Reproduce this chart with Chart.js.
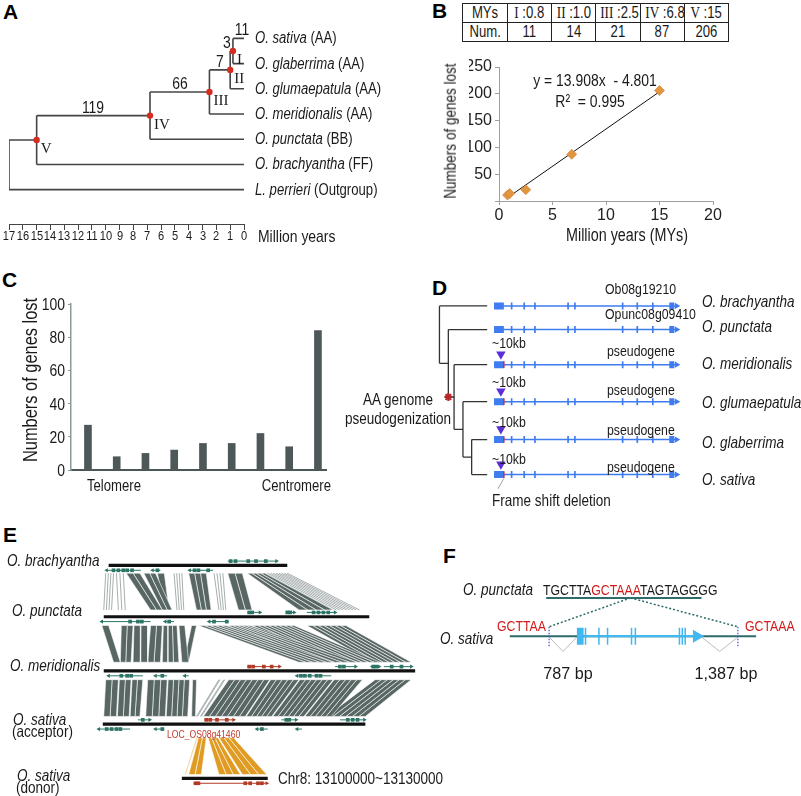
<!DOCTYPE html>
<html>
<head>
<meta charset="utf-8">
<title>Gene loss in Oryza</title>
<script src="https://cdn.jsdelivr.net/npm/chart.js@4.4.1/dist/chart.umd.min.js"></script>
<style>
  body { margin: 0; background: #fff; }
  #fig { position: relative; width: 801px; height: 796px; overflow: hidden; background: #fff;
         font-family: "Liberation Sans", Arial, sans-serif; color: #1a1a1a; }
  #fig canvas { position: absolute; }
  .t { position: absolute; white-space: nowrap; line-height: 1; font-size: 16px; }
  .lt { font-weight: bold; font-size: 21px; color: #000; }
  .rn { font-family: "Liberation Serif", "Times New Roman", serif; }
  .red { color: #d01c1c; }
  table.my { position: absolute; border-collapse: collapse; font-size: 16px; table-layout: fixed; }
  table.my td { border: 1px solid #222; padding: 0; height: 18px; text-align: center; line-height: 18px; white-space: nowrap; overflow: hidden; }
  table.my td span.n { display: inline-block; transform: scaleX(0.82); }
</style>
</head>
<body>
<div id="fig"></div>
<script>
// ---------- data ----------
// A / B : divergence nodes of the Oryza tree
const nodeLabels = ['I', 'II', 'III', 'IV', 'V'];
const nodeMYs = [0.8, 1.0, 2.5, 6.8, 15];
const rootMYs = 17;
const genesLost = [11, 14, 21, 87, 206];      // cumulative, table in B
const branchLost = [11, 3, 7, 66, 119];       // lost on each branch, tree in A
const taxa = ['O. sativa', 'O. glaberrima', 'O. glumaepatula', 'O. meridionalis', 'O. punctata', 'O. brachyantha', 'L. perrieri'];
const genomes = ['(AA)', '(AA)', '(AA)', '(AA)', '(BB)', '(FF)', '(Outgroup)'];

// B : linear fit shown on the plot
const fitSlope = 13.908;
const fitIntercept = -4.801;
const fitR2 = 0.995;

// C : genes lost along the chromosome, telomere -> centromere
const cBins = [1, 2, 3, 4, 5, 6, 7, 8, 9];
const cLost = [27, 8, 10, 12, 16, 16, 22, 14, 84];
const cTicks = [0, 20, 40, 60, 80, 100];

// D : gene model (gene units 0-100)
const dTaxa = ['O. brachyantha', 'O. punctata', 'O. meridionalis', 'O. glumaepatula', 'O. glaberrima', 'O. sativa'];
const dGeneNames = ['Ob08g19210', 'Opunc08g09410', 'pseudogene', 'pseudogene', 'pseudogene', 'pseudogene'];
const dPseudo = [false, false, true, true, true, true];
const exonFirst = [0, 5.3];
const exonThin = [9.5, 16.3, 22.1, 40, 43.7, 69.5, 77.4, 85.8];
const exonLast = [94.7, 97.4];
const geneLen = 100;
const insertPos = 3.7;
const dRowY = [301, 326, 363, 402, 442, 479];
const dTreeX = [-29.5, -24.7, -21.6, -16.8, -12.1];
const dTipX = -3.7;

// E : synteny tracks
const eTaxa = ['O. brachyantha', 'O. punctata', 'O. meridionalis', 'O. sativa', 'O. sativa'];
const eRole = ['', '', '', '(acceptor)', '(donor)'];
const eBarY = [562, 615, 671, 726, 782];
const eBarFrom = [105, 100, 100, 99, 180];
const eBarTo = [288, 372, 419, 368, 268];
const eGapTop = [8, 9, 9, 14];
const eGapBot = [7, 9, 8, 4];
// [upper track, upper start, upper end, lower start, lower end, shade 0 dark / 1 light / 2 orange]
const eBlocks = [
  [0, 102, 110, 100, 108, 1], [0, 113, 120, 115, 122, 1], [0, 123, 137, 148, 160, 0],
  [0, 141, 153, 160, 170, 0], [0, 155, 162, 162, 167, 0], [0, 172, 180, 175, 182, 1],
  [0, 187, 205, 195, 210, 0], [0, 213, 222, 218, 225, 1], [0, 227, 242, 238, 252, 0],
  [0, 247, 265, 300, 335, 0], [0, 265, 288, 335, 362, 1],
  [1, 98, 105, 110, 117, 0], [1, 118, 130, 117, 128, 0], [1, 131, 145, 130, 145, 0],
  [1, 148, 160, 145, 158, 0], [1, 161, 175, 160, 177, 0], [1, 177, 183, 180, 187, 0],
  [1, 190, 195, 182, 187, 0], [1, 197, 225, 300, 335, 0], [1, 227, 250, 320, 360, 0],
  [1, 252, 295, 335, 383, 0], [1, 308, 348, 375, 415, 0],
  [2, 102, 115, 100, 113, 0], [2, 116, 128, 114, 126, 0], [2, 129, 140, 127, 137, 0],
  [2, 145, 165, 143, 163, 0], [2, 166, 188, 164, 186, 0], [2, 191, 195, 190, 194, 0],
  [2, 218, 219, 195, 196, 1], [2, 223, 224, 199, 200, 1], [2, 228, 270, 202, 245, 0],
  [2, 271, 300, 246, 272, 0], [2, 301, 335, 273, 305, 0], [2, 336, 365, 306, 333, 0],
  [2, 378, 415, 328, 368, 0],
  [3, 195, 196, 183, 184, 2], [3, 197, 205, 187, 200, 2], [3, 207, 217, 218, 240, 2],
  [3, 218, 233, 242, 267, 2]
];
// [track, side (1 above / -1 below), start, end, strand, focal gene, exon boxes]
const eGenes = [
  [0, 1, 227, 277, 1, 0, [230, 235, 248, 256, 266]],
  [0, -1, 103, 138, -1, 0, [110, 115, 120, 124, 129]],
  [0, -1, 150, 158, -1, 0, [155]],
  [0, -1, 188, 212, -1, 0, [193, 197, 207]],
  [1, 1, 247, 260, 1, 0, [249, 252]],
  [1, 1, 287, 295, 1, 0, [288, 291]],
  [1, 1, 308, 337, 1, 0, [315, 320, 325, 330]],
  [1, -1, 98, 148, -1, 0, [127, 135, 139]],
  [1, -1, 163, 172, -1, 0, [167]],
  [1, -1, 208, 228, -1, 0, [213, 226]],
  [2, 1, 247, 280, 1, 1, [249, 253, 264, 272]],
  [2, 1, 337, 358, 1, 0, [342, 346]],
  [2, 1, 373, 382, 1, 0, [376, 379]],
  [2, 1, 387, 415, 1, 0, [395, 405]],
  [2, -1, 105, 140, -1, 0, [118, 124, 128]],
  [2, -1, 153, 165, -1, 0, [160]],
  [2, -1, 183, 187, -1, 0, []],
  [2, -1, 298, 333, -1, 0, [302, 306, 311, 318, 322]],
  [3, 1, 135, 147, 1, 0, [140]],
  [3, 1, 203, 233, 1, 1, [205, 209, 216, 226]],
  [3, 1, 282, 297, 1, 0, [287, 290]],
  [3, 1, 342, 367, 1, 0, [350, 355, 360]],
  [3, -1, 95, 127, -1, 0, [103, 108, 113, 117]],
  [3, -1, 153, 162, -1, 0, [160]],
  [3, -1, 257, 268, -1, 0, [262]],
  [3, -1, 298, 303, -1, 0, []],
  [4, -1, 192, 267, 1, 1, [194, 197, 245, 250, 258, 262]]
];

// F : insertion site
const fSeqParts = ['TGCTTA', 'GCTAAA', 'TAGTAGGGG'];
const fTsd = ['GCTTAA', 'GCTAAA'];
const fGapLabels = ['787 bp', '1,387 bp'];
const fSeqSpan = [543, 705];
const fSeqY = 594;
const fInsert = [546, 743];
const fLineSpan = [505, 762];
const fLineY = 639;
const fExonBig = [575, 582];
const fExonThin = [584, 598, 607, 632, 636, 682, 685, 688];
const fGeneEnd = 705;

// ---------- helpers ----------
Chart.defaults.font.family = '"Liberation Sans", Arial, sans-serif';
Chart.defaults.color = '#1a1a1a';
Chart.defaults.animation = false;
Chart.defaults.events = [];
Chart.defaults.plugins.legend.display = false;
Chart.defaults.plugins.tooltip.enabled = false;

const fig = document.getElementById('fig');

function addCanvas(left, top, w, h) {
  const c = document.createElement('canvas');
  c.width = w; c.height = h;
  c.style.left = left + 'px'; c.style.top = top + 'px';
  c.style.width = w + 'px'; c.style.height = h + 'px';
  fig.appendChild(c);
  return c;
}

// text in the figure is a condensed sans; squeeze the regular face horizontally
function label(html, x, y, opt) {
  opt = opt || {};
  const d = document.createElement('div');
  d.className = 't' + (opt.cls ? ' ' + opt.cls : '');
  d.innerHTML = html;
  d.style.left = x + 'px';
  d.style.top = y + 'px';
  if (opt.size) d.style.fontSize = opt.size + 'px';
  if (opt.color) d.style.color = opt.color;
  const a = opt.anchor || 'l';
  const ax = { l: '0', c: '-50%', r: '-100%' }[a];
  const sx = opt.sx === undefined ? 0.82 : opt.sx;
  d.style.transformOrigin = opt.rot ? 'center' : ({ l: 'left', c: 'center', r: 'right' }[a] + ' center');
  d.style.transform = 'translate(' + ax + ',-50%)' + (opt.rot ? ' rotate(' + opt.rot + 'deg)' : '') + ' scaleX(' + sx + ')';
  fig.appendChild(d);
  return d;
}

function seg(list, x1, y1, x2, y2) {
  list.push({ x: x1, y: y1 }, { x: x2, y: y2 }, { x: x2, y: null });
}

function lineSet(data, color, width, extra) {
  return Object.assign({ data: data, borderColor: color, borderWidth: width, pointRadius: 0,
    fill: false, tension: 0, spanGaps: false, borderCapStyle: 'butt' }, extra || {});
}

function pointSet(data, color, style, radius, rotation, extra) {
  return Object.assign({ data: data, showLine: false, pointStyle: style, pointRadius: radius,
    pointRotation: rotation || 0, pointBackgroundColor: color, pointBorderColor: color,
    pointBorderWidth: 0 }, extra || {});
}

function polySet(pts, color, edge) {
  return { data: pts.concat([pts[0]]), borderColor: edge || color, borderWidth: edge ? 0.7 : 0.1,
    backgroundColor: color, fill: 'shape', pointRadius: 0, tension: 0 };
}

function diagram(left, top, w, h, datasets, xr) {
  return new Chart(addCanvas(left, top, w, h), {
    type: 'line',
    data: { datasets: datasets },
    options: {
      responsive: false, devicePixelRatio: 1,
      layout: { padding: 0 },
      scales: {
        x: { type: 'linear', display: false, min: xr ? xr[0] : left, max: xr ? xr[1] : left + w },
        y: { type: 'linear', display: false, min: top, max: top + h, reverse: true }
      }
    }
  });
}

// panel letters
[['A', 3, 11], ['B', 432, 10], ['C', 2, 279], ['D', 432, 287], ['E', 3, 534], ['F', 443, 555]]
  .forEach(p => label(p[0], p[1], p[2], { cls: 'lt', sx: 1 }));

// ---------- A : dated tree ----------
const ages = nodeMYs.concat([rootMYs]);
const rows = [0.5];
for (let k = 1; k < 5; k++) rows[k] = (rows[k - 1] + k + 1) / 2;
rows[5] = (rows[4] + 6) / 2;

const treeA = [];
taxa.forEach((t, i) => seg(treeA, i === 0 ? ages[0] : ages[i - 1], i, 0, i));
for (let k = 0; k < ages.length; k++) seg(treeA, ages[k], k === 0 ? 0 : rows[k - 1], ages[k], k + 1);
for (let k = 0; k < 5; k++) seg(treeA, ages[k + 1], rows[k], ages[k], rows[k]);
const dotsA = nodeMYs.map((a, k) => ({ x: a, y: rows[k] }));

const aLeft = -20, aTop = 0;
const chA = new Chart(addCanvas(aLeft, aTop, 290, 250), {
  type: 'line',
  data: { datasets: [pointSet(dotsA, '#d62b1f', 'circle', 3.2), lineSet(treeA, '#454545', 1.6)] },
  options: {
    responsive: false, devicePixelRatio: 1,
    layout: { padding: { left: 29, right: 26, top: 0, bottom: 6 } },
    scales: {
      x: { type: 'linear', min: 0, max: rootMYs, reverse: true,
        ticks: { stepSize: 1, autoSkip: false, display: false },
        grid: { drawOnChartArea: false, tickLength: 6, color: '#444' },
        border: { color: '#444', width: 1 },
        afterFit: s => { s.height = 20; } },
      y: { type: 'linear', display: false, min: -1.364, max: 7.363, reverse: true }
    }
  }
});
const axA = v => chA.scales.x.getPixelForValue(v) + aLeft;
const ayA = v => chA.scales.y.getPixelForValue(v) + aTop;
chA.scales.x.ticks.forEach(t => label(String(t.value), axA(t.value), 236, { anchor: 'c', size: 13.5 }));
taxa.forEach((t, i) => label('<i>' + t + '</i> ' + genomes[i], axA(0) + 11, ayA(i)));
branchLost.forEach((n, j) => {
  const x1 = j === 0 ? ages[0] : ages[j];
  const x2 = j === 0 ? 0 : ages[j - 1];
  const r = j === 0 ? 0 : rows[j - 1];
  const dx = j === 0 ? 4 : j === 1 ? -5 : 0;
  label(String(n), (axA(x1) + axA(x2)) / 2 + dx, ayA(r) - 9, { anchor: 'c', size: 17 });
});
nodeLabels.forEach((n, k) => label(n, axA(nodeMYs[k]) + 4, ayA(rows[k]) + 8, { cls: 'rn', size: 15, sx: 1 }));
label('Million years', 258, 236, { size: 17 });

// ---------- B : table + regression ----------
const tbl = document.createElement('table');
tbl.className = 'my';
tbl.style.left = '462px'; tbl.style.top = '3px'; tbl.style.width = '267px';
const fmtMY = v => (v < 10 ? v.toFixed(1) : String(v));
let r1 = '<tr><td style="width:44px"><span class="n">MYs</span></td>';
let r2 = '<tr><td><span class="n">Num.</span></td>';
nodeLabels.forEach((n, k) => {
  r1 += '<td><span class="n"><span class="rn">' + n + '</span> :' + fmtMY(nodeMYs[k]) + '</span></td>';
  r2 += '<td><span class="n">' + genesLost[k] + '</span></td>';
});
tbl.innerHTML = r1 + '</tr>' + r2 + '</tr>';
fig.appendChild(tbl);

const ptsB = nodeMYs.map((a, k) => ({ x: a, y: genesLost[k] }));
const fitB = [nodeMYs[0], nodeMYs[4]].map(x => ({ x: x, y: fitSlope * x + fitIntercept }));
new Chart(addCanvas(400, 50, 330, 200), {
  type: 'scatter',
  data: { datasets: [
    { data: ptsB, pointStyle: 'rectRot', pointRadius: 5, pointBackgroundColor: '#e4953f', pointBorderColor: '#c97b2c', pointBorderWidth: 0.6 },
    { data: fitB, showLine: true, borderColor: '#111', borderWidth: 1, pointRadius: 0 }
  ] },
  options: {
    responsive: false, devicePixelRatio: 1,
    layout: { padding: { left: 69, right: 17, top: 17, bottom: 25 } },
    scales: {
      x: { type: 'linear', min: 0, max: 20,
        ticks: { stepSize: 5, font: { size: 16 }, padding: 1, color: '#222' },
        grid: { drawOnChartArea: false, tickLength: 4, color: '#a0a0a0' },
        border: { color: '#a0a0a0', width: 1 },
        afterFit: s => { s.height = 24; } },
      y: { type: 'linear', min: 0, max: 250,
        ticks: { stepSize: 50, font: { size: 16 }, padding: 3, color: '#222', callback: v => (v === 0 ? '' : v) },
        grid: { drawOnChartArea: false, tickLength: 4, color: '#a0a0a0' },
        border: { color: '#a0a0a0', width: 1 },
        afterFit: s => { s.width = 30; } }
    }
  }
});
label('y = ' + fitSlope + 'x &nbsp;- ' + (-fitIntercept), 595, 80, { anchor: 'c', size: 17 });
label('R² &nbsp;= ' + fitR2, 590, 101, { anchor: 'c', size: 17 });
label('Numbers of genes lost', 450, 131, { anchor: 'c', rot: -90, size: 16.5 });
label('Million years (MYs)', 627, 236, { anchor: 'c', size: 17.5 });

// ---------- C : bars ----------
const chC = new Chart(addCanvas(0, 290, 345, 200), {
  type: 'bar',
  data: { datasets: [{ data: cBins.map((b, i) => ({ x: b, y: cLost[i] })), backgroundColor: '#4e5858', barThickness: 7 }] },
  options: {
    responsive: false, devicePixelRatio: 1,
    layout: { padding: { left: 43, right: 19, top: 14, bottom: 18 } },
    scales: {
      x: { type: 'linear', min: 0.41, max: 9.28, offset: false,
        ticks: { display: false }, grid: { display: false, drawTicks: false },
        border: { color: '#4b5656', width: 2 }, afterFit: s => { s.height = 2; } },
      y: { min: 0, max: 100,
        ticks: { stepSize: 20, display: false },
        grid: { drawOnChartArea: false, tickLength: 3, color: '#8a9a9a' },
        border: { color: '#8a9a9a', width: 1.5 },
        afterFit: s => { s.width = 28; } }
    }
  }
});
cTicks.forEach(v => label(String(v), 65, chC.scales.y.getPixelForValue(v) + 290, { anchor: 'r', size: 17 }));
label('Numbers of genes lost', 30, 380, { anchor: 'c', rot: -90, size: 20 });
label('Telomere', 87, 486, { size: 16 });
label('Centromere', 331, 486, { anchor: 'r', size: 16 });

// ---------- D : gene models ----------
const dNodeY = [];
dNodeY[4] = (dRowY[4] + dRowY[5]) / 2;
for (let k = 3; k >= 1; k--) dNodeY[k] = (dRowY[k] + dNodeY[k + 1]) / 2;
const treeD = [];
for (let k = 0; k < 5; k++) {
  seg(treeD, dTreeX[k], dRowY[k], dTreeX[k], k < 4 ? dNodeY[k + 1] : dRowY[5]);
  seg(treeD, dTreeX[k], dRowY[k], dTipX, dRowY[k]);
  if (k > 0) seg(treeD, dTreeX[k - 1], dNodeY[k], dTreeX[k], dNodeY[k]);
}
seg(treeD, dTreeX[4], dRowY[5], dTipX, dRowY[5]);

const intr = [], bigEx = [], thinEx = [], arrows = [], fshift = [], triD = [];
dRowY.forEach((y, i) => {
  seg(intr, 0, y, geneLen - 2, y);
  seg(bigEx, exonFirst[0], y, exonFirst[1], y);
  seg(bigEx, exonLast[0], y, exonLast[1], y);
  exonThin.forEach(x => seg(thinEx, x - 0.45, y, x + 0.45, y));
  arrows.push({ x: geneLen - 1.3, y: y });
  if (dPseudo[i]) {
    seg(fshift, exonFirst[1], y - 3.5, exonFirst[1], y + 3.5);
    triD.push({ x: insertPos, y: y - 11 });
  }
});
const leader = [];
seg(leader, exonFirst[1], dRowY[5] + 4, 2.1, dRowY[5] + 15);
const BLUE = '#3e7cf0';
const chD = diagram(340, 280, 461, 230, [
  pointSet(triD, '#5a2fd8', 'triangle', 5.5, 180),
  pointSet([{ x: dTreeX[1], y: dNodeY[2] }], '#b0282a', 'star', 4, 0, { pointBorderWidth: 2 }),
  lineSet(fshift, '#c0304a', 1.5),
  pointSet(arrows, BLUE, 'triangle', 3.6, 90),
  lineSet(thinEx, BLUE, 7),
  lineSet(bigEx, BLUE, 7),
  lineSet(intr, BLUE, 1.5),
  lineSet(leader, '#888', 0.8),
  lineSet(treeD, '#333', 1.3)
], [(340 - 492) / 1.9, (801 - 492) / 1.9]);
const axD = v => chD.scales.x.getPixelForValue(v) + 340;
dRowY.forEach((y, i) => {
  label('<i>' + dTaxa[i] + '</i>', 702, y, { size: 16.5 });
  label(dGeneNames[i], dPseudo[i] ? axD(61) : axD(60), y - 13, { size: 15 });
  if (dPseudo[i]) label('~10kb', axD(insertPos) - 9, y - 21, { size: 15 });
});
label('AA genome', 398, 399, { anchor: 'c', size: 16.5 });
label('pseudogenization', 398, 418, { anchor: 'c', size: 16.5 });
label('Frame shift deletion', 492, 500, { size: 16.5 });

// ---------- E : synteny ----------
const shades = ['#586664', '#8f9b99', '#e09c22'];
const eSets = [];
const faint = [];
eBlocks.forEach(b => {
  const t = b[0];
  const yt = eBarY[t] + eGapTop[t], yb = eBarY[t + 1] - eGapBot[t];
  const wide = ((b[2] - b[1]) + (b[4] - b[3])) / 2;
  if (b[5] === 1) {
    // sparse hits: a few single lines
    const n = Math.max(1, Math.round(wide / 3));
    for (let i = 0; i <= n; i++) {
      const f = n ? i / n : 0;
      seg(faint, b[1] + (b[2] - b[1]) * f, yt, b[3] + (b[4] - b[3]) * f, yb);
    }
    return;
  }
  const n = Math.max(1, Math.round(wide / 6));
  for (let i = 0; i < n; i++) {
    const f0 = i / n, f1 = (i + 1) / n;
    const ts = b[1] + (b[2] - b[1]) * f0, te = b[1] + (b[2] - b[1]) * f1;
    const bs = b[3] + (b[4] - b[3]) * f0, be = b[3] + (b[4] - b[3]) * f1;
    eSets.push(polySet([{ x: ts, y: yt }, { x: te, y: yt }, { x: be, y: yb }, { x: bs, y: yb }],
      shades[b[5]], 'rgba(255,255,255,0.85)'));
  }
});
eSets.push(lineSet(faint, shades[1], 0.8));
const bars = [];
eBarY.forEach((y, i) => seg(bars, eBarFrom[i], y, eBarTo[i], y));
const gl = [[], []], gb = [[], []], ga = [[], []], gr = [[], []];
eGenes.forEach(g => {
  const y = eBarY[g[0]] + (g[1] > 0 ? -4.5 : 5);
  const c = g[5];
  seg(gl[c], g[2], y, g[3], y);
  g[6].forEach(x => gb[c].push({ x: x, y: y }));
  ga[c].push({ x: g[4] > 0 ? g[3] : g[2], y: y });
  gr[c].push(g[4] > 0 ? 90 : -90);
});
const eColors = ['#2b7566', '#b23a26'];
[0, 1].forEach(c => {
  eSets.push(pointSet(ga[c], eColors[c], 'triangle', 2.4, 0, { pointRotation: gr[c] }));
  eSets.push(pointSet(gb[c], eColors[c], 'rect', 2.6));
  eSets.push(lineSet(gl[c], eColors[c], 1));
});
eSets.push(lineSet(bars, '#111', 3.2));
diagram(90, 545, 335, 250, eSets);
const eLabX = [7, 12, 10, 13, 17];
const eLabY = [560, 610, 665, 719, 775];
eTaxa.forEach((t, i) => {
  label('<i>' + t + '</i>', eLabX[i], eLabY[i], { size: 16.5 });
  if (eRole[i]) label(eRole[i], eLabX[i] - 1, eLabY[i] + 12, { size: 16.5 });
});
label('LOC_OS08g41460', 167, 734, { size: 10.5, color: '#c0392b' });
label('Chr8: 13100000~13130000', 278, 778, { size: 16.5 });

// ---------- F : insertion site ----------
const fTeal = [], fDots = [], fIns = [], fV = [], fIntr = [], fBig = [], fThin = [];
seg(fTeal, fSeqSpan[0], fSeqY, fSeqSpan[1], fSeqY);
seg(fTeal, fLineSpan[0], fLineY, fLineSpan[1], fLineY);
const apex = 631;
seg(fDots, apex, fSeqY, fInsert[0], fLineY - 11);
seg(fDots, apex, fSeqY, fInsert[1], fLineY - 11);
fInsert.forEach(x => seg(fIns, x, fLineY - 11, x, fLineY + 13));
seg(fV, fInsert[0], fLineY + 1, (fInsert[0] + fExonBig[0]) / 2, fLineY + 18);
seg(fV, (fInsert[0] + fExonBig[0]) / 2, fLineY + 18, fExonBig[0], fLineY + 1);
seg(fV, fGeneEnd, fLineY + 1, (fGeneEnd + fInsert[1]) / 2, fLineY + 18);
seg(fV, (fGeneEnd + fInsert[1]) / 2, fLineY + 18, fInsert[1], fLineY + 1);
seg(fIntr, fExonBig[1], fLineY, fGeneEnd - 8, fLineY);
seg(fBig, fExonBig[0], fLineY, fExonBig[1], fLineY);
fExonThin.forEach(x => seg(fThin, x - 0.8, fLineY, x + 0.8, fLineY));
const LBLUE = '#41b8ef';
diagram(440, 570, 361, 100, [
  pointSet([{ x: fGeneEnd - 5, y: fLineY }], LBLUE, 'triangle', 7.5, 90),
  lineSet(fBig, LBLUE, 17),
  lineSet(fThin, LBLUE, 17),
  lineSet(fIntr, LBLUE, 2.2),
  lineSet(fIns, '#4a4ac8', 1.2, { borderDash: [1.5, 1.5] }),
  lineSet(fDots, '#2f6b6b', 1.5, { borderDash: [2, 2] }),
  lineSet(fV, '#aaaaaa', 0.8),
  lineSet(fTeal, '#2f6b6b', 2)
]);
label('<i>O. punctata</i>', 463, 589, { size: 16.5 });
label(fSeqParts[0] + '<span class="red">' + fSeqParts[1] + '</span>' + fSeqParts[2], 543, 589, { size: 15 });
label('<i>O. sativa</i>', 440, 638, { size: 16.5 });
label(fTsd[0], 497, 625, { size: 15, color: '#d01c1c' });
label(fTsd[1], 745, 625, { size: 15, color: '#d01c1c' });
label(fGapLabels[0], 568, 673, { anchor: 'c', size: 17, sx: 0.95 });
label(fGapLabels[1], 726, 673, { anchor: 'c', size: 17, sx: 0.95 });
</script>
</body>
</html>
